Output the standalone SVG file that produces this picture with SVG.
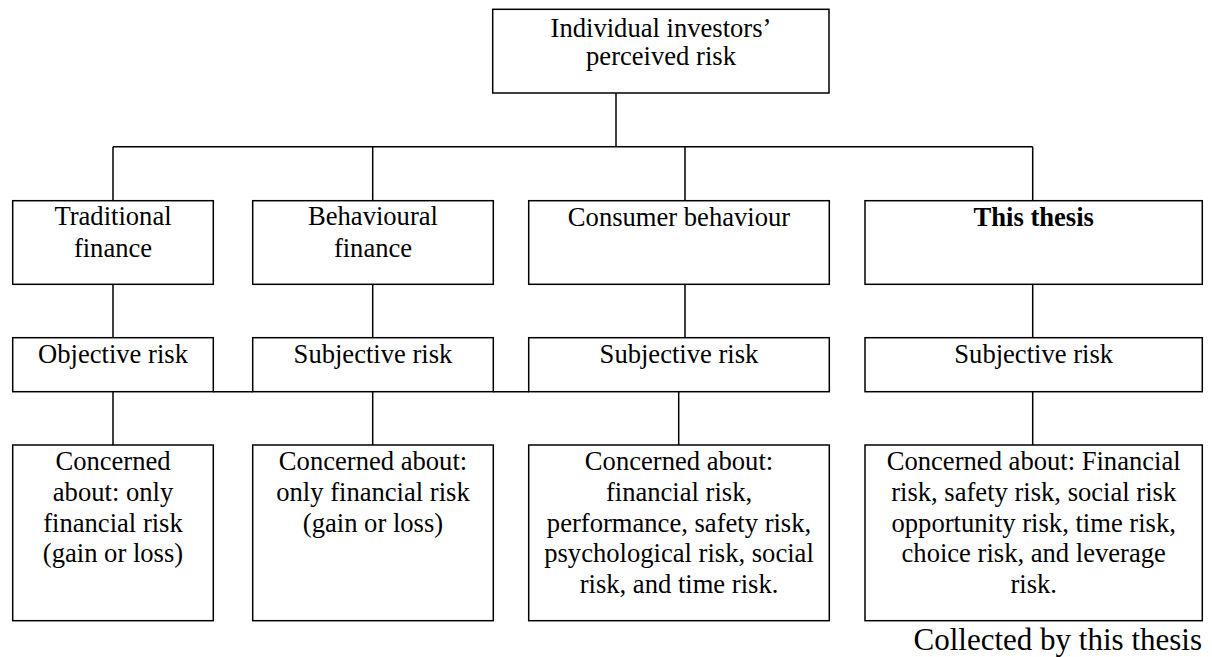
<svg xmlns="http://www.w3.org/2000/svg" width="1212" height="657" viewBox="0 0 1212 657">
  <style>
    .box { fill: #ffffff; stroke: #000000; stroke-width: 1.5; }
    .wire { fill: none; stroke: #000000; stroke-width: 1.5; }
    .lbl { font-family: "Liberation Serif", "Times New Roman", Times, serif; font-size: 26.6px; fill: #000000; text-anchor: middle; }
    .bold { font-weight: bold; }
    .note { font-family: "Liberation Serif", "Times New Roman", Times, serif; font-size: 31px; fill: #000000; text-anchor: end; }
  </style>
  <rect width="1212" height="657" fill="#ffffff"/>

  <!-- connectors -->
  <g id="connectors" class="wire">
    <path d="M616 93 V146.7"/>
    <path d="M113 146.7 H1032.7"/>
    <path d="M113 146.7 V200.7 M372.7 146.7 V200.7 M685 146.7 V200.7 M1032.7 146.7 V200.7"/>
    <path d="M113 284.3 V337.7 M372.7 284.3 V337.7 M685 284.3 V337.7 M1032.7 284.3 V337.7"/>
    <path d="M213.3 391.7 H252.7 M493.3 391.7 H528.7"/>
    <path d="M113 391.7 V445 M372.7 391.7 V445 M678.7 391.7 V445 M1032.7 391.7 V445"/>
  </g>

  <!-- root -->
  <g id="root">
    <rect class="box" x="492.7" y="9.3" width="336.3" height="83.7"/>
    <text class="lbl" x="661" y="36.7">Individual investors’</text>
    <text class="lbl" x="661" y="65">perceived risk</text>
  </g>

  <!-- approaches -->
  <g id="traditional-finance">
    <rect class="box" x="12.7" y="200.7" width="200.6" height="83.6"/>
    <text class="lbl" x="113" y="225">Traditional</text>
    <text class="lbl" x="113" y="256.5">finance</text>
  </g>
  <g id="behavioural-finance">
    <rect class="box" x="252.7" y="200.7" width="240.6" height="83.6"/>
    <text class="lbl" x="373" y="225">Behavioural</text>
    <text class="lbl" x="373" y="256.5">finance</text>
  </g>
  <g id="consumer-behaviour">
    <rect class="box" x="528.7" y="200.7" width="300.6" height="83.6"/>
    <text class="lbl" x="679" y="225.5">Consumer behaviour</text>
  </g>
  <g id="this-thesis">
    <rect class="box" x="865" y="200.7" width="337.3" height="83.6"/>
    <text class="lbl bold" x="1033.7" y="225.5">This thesis</text>
  </g>

  <!-- risk types -->
  <g id="objective-risk">
    <rect class="box" x="12.7" y="337.7" width="200.6" height="54"/>
    <text class="lbl" x="113" y="363.3">Objective risk</text>
  </g>
  <g id="subjective-risk-1">
    <rect class="box" x="252.7" y="337.7" width="240.6" height="54"/>
    <text class="lbl" x="373" y="363.3">Subjective risk</text>
  </g>
  <g id="subjective-risk-2">
    <rect class="box" x="528.7" y="337.7" width="300.6" height="54"/>
    <text class="lbl" x="679" y="363.3">Subjective risk</text>
  </g>
  <g id="subjective-risk-3">
    <rect class="box" x="865" y="337.7" width="337.3" height="54"/>
    <text class="lbl" x="1033.7" y="363.3">Subjective risk</text>
  </g>

  <!-- concerns -->
  <g id="concern-traditional">
    <rect class="box" x="12.7" y="445" width="200.6" height="175.7"/>
    <text class="lbl" x="113" y="470">Concerned</text>
    <text class="lbl" x="113" y="500.8">about: only</text>
    <text class="lbl" x="113" y="531.6">financial risk</text>
    <text class="lbl" x="113" y="562.4">(gain or loss)</text>
  </g>
  <g id="concern-behavioural">
    <rect class="box" x="252.7" y="445" width="240.6" height="175.7"/>
    <text class="lbl" x="373" y="470">Concerned about:</text>
    <text class="lbl" x="373" y="500.8">only financial risk</text>
    <text class="lbl" x="373" y="531.6">(gain or loss)</text>
  </g>
  <g id="concern-consumer">
    <rect class="box" x="528.7" y="445" width="300.6" height="175.7"/>
    <text class="lbl" x="679" y="470">Concerned about:</text>
    <text class="lbl" x="679" y="500.8">financial risk,</text>
    <text class="lbl" x="679" y="531.6">performance, safety risk,</text>
    <text class="lbl" x="679" y="562.4">psychological risk, social</text>
    <text class="lbl" x="679" y="593.2">risk, and time risk.</text>
  </g>
  <g id="concern-thesis">
    <rect class="box" x="865" y="445" width="337.3" height="175.7"/>
    <text class="lbl" x="1033.7" y="470">Concerned about: Financial</text>
    <text class="lbl" x="1033.7" y="500.8">risk, safety risk, social risk</text>
    <text class="lbl" x="1033.7" y="531.6">opportunity risk, time risk,</text>
    <text class="lbl" x="1033.7" y="562.4">choice risk, and leverage</text>
    <text class="lbl" x="1033.7" y="593.2">risk.</text>
  </g>

  <text class="note" x="1202" y="650">Collected by this thesis</text>
</svg>
